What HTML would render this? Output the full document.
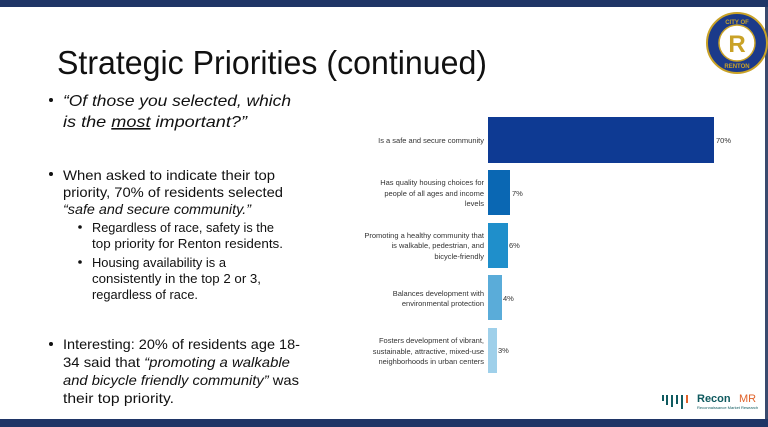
<!DOCTYPE html><html><head><style>body{margin:0;background:#fff}svg{display:block}</style></head><body>
<svg width="768" height="427" viewBox="0 0 768 427" xmlns="http://www.w3.org/2000/svg" font-family="Liberation Sans, sans-serif">
<rect x="0" y="0" width="768" height="7" fill="#1f3566"/>
<rect x="0" y="419" width="768" height="8" fill="#1f3566"/>
<rect x="765" y="7" width="3" height="412" fill="#3a4a6e"/>
<text x="57" y="74" font-size="33" fill="#111" textLength="430" lengthAdjust="spacingAndGlyphs">Strategic Priorities (continued)</text>
<g fill="#111" font-size="16" font-style="italic">
<text x="63" y="106" textLength="228" lengthAdjust="spacingAndGlyphs">“Of those you selected, which</text>
<text x="63" y="127" textLength="184" lengthAdjust="spacingAndGlyphs">is the <tspan text-decoration="underline">most</tspan> important?”</text>
</g>
<g fill="#111" font-size="14">
<circle cx="51" cy="100" r="2"/><circle cx="51" cy="174" r="2"/><circle cx="51" cy="344" r="2"/>
<circle cx="80" cy="227" r="1.8"/><circle cx="80" cy="262" r="1.8"/>
<text x="63" y="180" textLength="212" lengthAdjust="spacingAndGlyphs">When asked to indicate their top</text>
<text x="63" y="197" textLength="220" lengthAdjust="spacingAndGlyphs">priority, 70% of residents selected</text>
<text x="63" y="214" textLength="188" lengthAdjust="spacingAndGlyphs" font-style="italic">“safe and secure community.”</text>
<g font-size="13">
<text x="92" y="232" textLength="182" lengthAdjust="spacingAndGlyphs">Regardless of race, safety is the</text>
<text x="92" y="248" textLength="191" lengthAdjust="spacingAndGlyphs">top priority for Renton residents.</text>
<text x="92" y="267" textLength="134" lengthAdjust="spacingAndGlyphs">Housing availability is a</text>
<text x="92" y="283" textLength="169" lengthAdjust="spacingAndGlyphs">consistently in the top 2 or 3,</text>
<text x="92" y="299" textLength="106" lengthAdjust="spacingAndGlyphs">regardless of race.</text>
</g>
<text x="63" y="349" textLength="237" lengthAdjust="spacingAndGlyphs">Interesting: 20% of residents age 18-</text>
<text x="63" y="367" textLength="227" lengthAdjust="spacingAndGlyphs">34 said that <tspan font-style="italic">“promoting a walkable</tspan></text>
<text x="63" y="385" textLength="236" lengthAdjust="spacingAndGlyphs"><tspan font-style="italic">and bicycle friendly community”</tspan> was</text>
<text x="63" y="403" textLength="111" lengthAdjust="spacingAndGlyphs">their top priority.</text>
</g>
<rect x="488" y="117" width="226" height="46" fill="#0e3a93"/>
<rect x="488" y="170" width="22" height="45" fill="#0a67b3"/>
<rect x="488" y="223" width="20" height="45" fill="#1f8fcb"/>
<rect x="488" y="275" width="14" height="45" fill="#5aacd9"/>
<rect x="488" y="328" width="9" height="45" fill="#9fd0ea"/>
<g font-size="7.5" fill="#333" text-anchor="end">
<text x="484" y="143">Is a safe and secure community</text>
<text x="484" y="185">Has quality housing choices for</text>
<text x="484" y="196">people of all ages and income</text>
<text x="484" y="206">levels</text>
<text x="484" y="238">Promoting a healthy community that</text>
<text x="484" y="248">is walkable, pedestrian, and</text>
<text x="484" y="259">bicycle-friendly</text>
<text x="484" y="296">Balances development with</text>
<text x="484" y="306">environmental protection</text>
<text x="484" y="343">Fosters development of vibrant,</text>
<text x="484" y="354">sustainable, attractive, mixed-use</text>
<text x="484" y="364">neighborhoods in urban centers</text>
</g>
<g font-size="7.5" fill="#333">
<text x="716" y="143">70%</text><text x="512" y="196">7%</text><text x="509" y="248">6%</text><text x="503" y="301">4%</text><text x="498" y="353">3%</text>
</g>
<circle cx="737" cy="43" r="30" fill="#1b3a8a" stroke="#c9a227" stroke-width="2"/>
<circle cx="737" cy="43" r="18" fill="#fff" stroke="#c9a227" stroke-width="1.5"/>
<text x="737" y="52" font-size="24" font-weight="bold" fill="#c9a227" text-anchor="middle">R</text>
<text x="737" y="24" font-size="6" fill="#c9a227" text-anchor="middle" font-weight="bold">CITY OF</text>
<text x="737" y="68" font-size="6" fill="#c9a227" text-anchor="middle" font-weight="bold">RENTON</text>
<g fill="#0f5a5f"><rect x="662" y="395" width="2" height="6"/><rect x="666" y="395" width="2" height="10"/><rect x="671" y="395" width="2" height="12"/><rect x="676" y="395" width="2" height="9"/><rect x="681" y="395" width="2" height="14"/></g>
<rect x="686" y="395" width="2" height="8" fill="#e0622a"/>
<text x="697" y="402" font-size="11" font-weight="bold" fill="#0f5a5f">Recon</text>
<text x="739" y="402" font-size="11" fill="#e0622a">MR</text>
<text x="697" y="409" font-size="4" fill="#0f5a5f">Reconnaissance Market Research</text>
</svg></body></html>
